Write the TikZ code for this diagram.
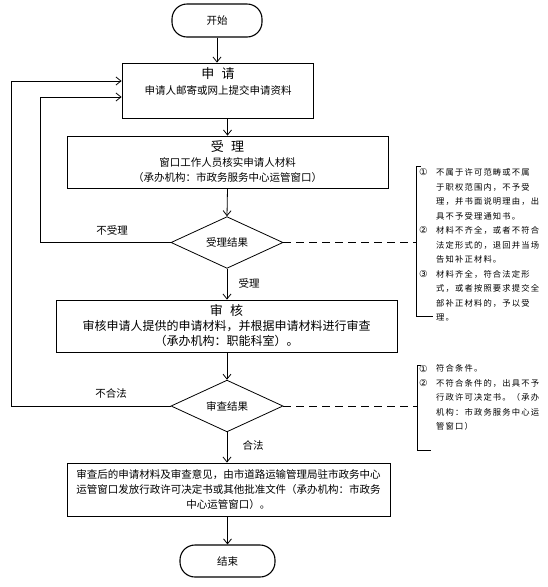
\documentclass[tikz,border=0pt]{standalone}
\usepackage{fontspec}
\newfontfamily\cjk{Noto Sans CJK SC}
\newfontfamily\notefont[LetterSpace=14]{Noto Sans CJK SC}
\newfontfamily\circfont{DejaVu Sans}
\newcommand{\cnum}[1]{\makebox[17pt][l]{\raisebox{-0.3pt}{\circfont\fontsize{9.5}{14.5}\selectfont #1}}}
\usetikzlibrary{shapes.geometric,arrows.meta}
\tikzset{
  box/.style={draw,line width=0.8pt,inner sep=0pt,align=center,font=\cjk\fontsize{10.5}{15}\selectfont},
  term/.style={draw,line width=1.1pt,rounded corners=15pt,inner sep=0pt,font=\cjk\fontsize{10.5}{15}\selectfont},
  decision/.style={draw,diamond,line width=0.8pt,inner sep=0pt,font=\cjk\fontsize{10.5}{15}\selectfont},
  lbl/.style={inner sep=0pt,font=\cjk\fontsize{10.5}{15}\selectfont},
  note/.style={inner sep=0pt,align=left,font=\notefont\fontsize{8.3}{14.5}\selectfont},
  flow/.style={line width=0.8pt,-{Straight Barb[length=5pt,width=8pt]}},
  dashline/.style={line width=0.8pt,dash pattern=on 8pt off 5pt},
  bracket/.style={line width=0.8pt}
}
\begin{document}
\begin{tikzpicture}[x=1pt,y=-1pt]
\useasboundingbox (0,0) rectangle (547,587);
% nodes
\node[term,minimum width=90pt,minimum height=33pt] (start) at (217,20.5) {开始};
\node[box,minimum width=191pt,minimum height=55pt] (apply) at (217.5,90.5) {};
\node[lbl,font=\cjk\fontsize{13}{15}\selectfont] (applyt) at (218,74) {申\hspace{0.55em}请};
\node[lbl] (applys) at (218,90) {申请人邮寄或网上提交申请资料};
\node[box,minimum width=321pt,minimum height=52pt] (accept) at (227.5,162)
  {{\fontsize{13}{15}\selectfont 受\hspace{0.55em}理}\\窗口工作人员核实申请人材料\\（承办机构：市政务服务中心运管窗口）};
\node[decision,minimum width=112pt,minimum height=49pt] (d1) at (227,242.5) {受理结果};
\node[box,minimum width=341pt,minimum height=52pt,font=\cjk\fontsize{12}{15}\selectfont] (review) at (226.5,326)
  {{\fontsize{13}{15}\selectfont 审\hspace{0.55em}核}\\审核申请人提供的申请材料，并根据申请材料进行审查\\（承办机构：职能科室）。};
\node[decision,minimum width=112pt,minimum height=48pt] (d2) at (227,406) {审查结果};
\node[box,minimum width=323pt,minimum height=53pt] (final) at (228.5,489.5)
  {审查后的申请材料及审查意见，由市道路运输管理局驻市政务中心\\运管窗口发放行政许可决定书或其他批准文件（承办机构：市政务\\中心运管窗口）。};
\node[term,minimum width=95pt,minimum height=32pt] (end) at (227.5,561) {结束};
% labels
\node[lbl] (l1) at (112,230) {不受理};
\node[lbl] (l2) at (249,283) {受理};
\node[lbl] (l3) at (111,393) {不合法};
\node[lbl] (l4) at (253,445) {合法};
% loop coordinates
\coordinate (loop1) at (40,97);
\coordinate (loop2) at (11,81);
% connectors
\draw[flow] (start.south) -- (start.south |- apply.north);
\draw[flow] (apply.south -| accept.north) -- (accept.north);
\draw[flow] (accept.south) -- (d1.north);
\draw[flow] (d1.west) -| (loop1) -- (loop1 -| apply.west);
\draw[flow] (d1.south) -- (d1.south |- review.north);
\draw[flow] (review.south -| d2.north) -- (d2.north);
\draw[flow] (d2.west) -| (loop2) -- (loop2 -| apply.west);
\draw[flow] (d2.south) -- (d2.south |- final.north);
\draw[flow] (final.south -| end.north) -- (end.north);
% notes
\coordinate (b1top) at (416,166);
\coordinate (b1bot) at (416,316);
\coordinate (b2top) at (417,365);
\coordinate (b2bot) at (417,450);
\draw[dashline] (d1.east) -- (d1.east -| b1top);
\draw[dashline] (d2.east) -- (d2.east -| b2top);
\draw[bracket] ([xshift=5pt]b1top) -- (b1top) -- (b1bot) -- ([xshift=17pt]b1bot);
\draw[bracket] ([xshift=4pt]b2top) -- (b2top) -- (b2bot) -- ([xshift=14pt]b2bot);
\node[note,anchor=north west] (n1) at (419,168.5) {%
\cnum{①}不属于许可范畴或不属\\
\hspace*{17pt}于职权范围内，不予受\\
\hspace*{17pt}理，并书面说明理由，出\\
\hspace*{17pt}具不予受理通知书。\\
\cnum{②}材料不齐全，或者不符合\\
\hspace*{17pt}法定形式的，退回并当场\\
\hspace*{17pt}告知补正材料。\\
\cnum{③}材料齐全，符合法定形\\
\hspace*{17pt}式，或者按照要求提交全\\
\hspace*{17pt}部补正材料的，予以受\\
\hspace*{17pt}理。};
\node[note,anchor=north west] (n2) at (419,364.5) {%
\cnum{①}符合条件。\\
\cnum{②}不符合条件的，出具不予\\
\hspace*{17pt}行政许可决定书。（承办\\
\hspace*{17pt}机构：市政务服务中心运\\
\hspace*{17pt}管窗口）};
\end{tikzpicture}
\end{document}
